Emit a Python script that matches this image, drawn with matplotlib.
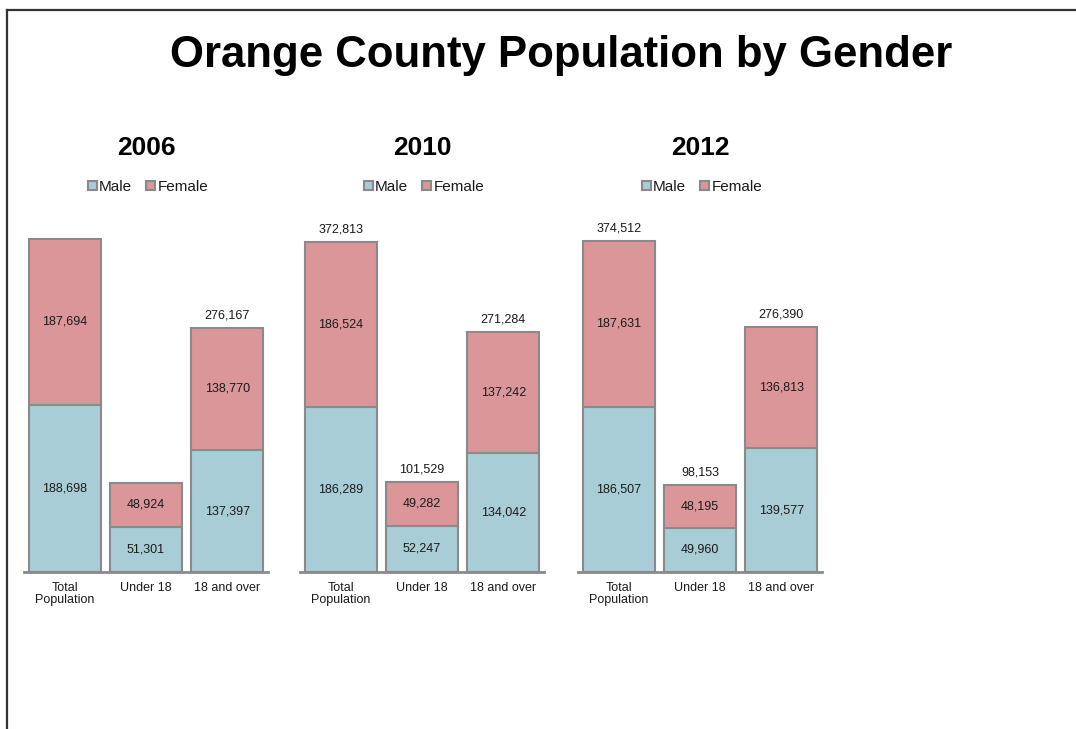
import matplotlib
matplotlib.use("Agg")
import matplotlib.pyplot as plt
from matplotlib.patches import Patch
from matplotlib.lines import Line2D

plt.rcParams['font.family'] = ['Liberation Sans', 'DejaVu Sans']

# Population data by year
years = ["2006", "2010", "2012"]
categories = ["Total\nPopulation", "Under 18", "18 and over"]
male = {
    "2006": [188698, 51301, 137397],
    "2010": [186289, 52247, 134042],
    "2012": [186507, 49960, 139577],
}
female = {
    "2006": [187694, 48924, 138770],
    "2010": [186524, 49282, 137242],
    "2012": [187631, 48195, 136813],
}
# Stated totals shown above the bars (None = not shown)
totals = {
    "2006": [None, None, 276167],
    "2010": [372813, 101529, 271284],
    "2012": [374512, 98153, 276390],
}

MALE_C = "#a9cdd6"
FEMALE_C = "#db9699"
EDGE_C = "#8a8a8a"
TEXT_C = "#1a1a1a"

W, H = 1076, 729
fig = plt.figure(figsize=(W / 100, H / 100), dpi=100)

# Frame around the slide (left and top edges)
fig.add_artist(Line2D([7 / W, 7 / W], [0, 1 - 10 / H], transform=fig.transFigure,
                      color="#333333", lw=1.6))
fig.add_artist(Line2D([7 / W, 1], [1 - 10 / H, 1 - 10 / H], transform=fig.transFigure,
                      color="#333333", lw=1.6))

fig.text(561 / W, 1 - 55 / H, "Orange County Population by Gender", ha="center", va="center",
         fontsize=31.5, fontweight="bold", color="black")

panel_left = [24, 300, 578]
panel_width = 244
base_px = 572
top_px = 218
ymax = 400000

x = [0, 1, 2]
bw = 0.885

for yr, left in zip(years, panel_left):
    ax = fig.add_axes([left / W, (H - base_px) / H, panel_width / W, (base_px - top_px) / H])
    m = male[yr]
    f = female[yr]
    ax.bar(x, m, width=bw, color=MALE_C, edgecolor=EDGE_C, linewidth=1.5, zorder=2)
    ax.bar(x, f, width=bw, bottom=m, color=FEMALE_C, edgecolor=EDGE_C, linewidth=1.5, zorder=2)
    for xi, mv, fv, tv in zip(x, m, f, totals[yr]):
        ax.text(xi, mv / 2, f"{mv:,}", ha="center", va="center", fontsize=9, color=TEXT_C)
        ax.text(xi, mv + fv / 2, f"{fv:,}", ha="center", va="center", fontsize=9, color=TEXT_C)
        if tv is not None:
            ax.annotate(f"{tv:,}", xy=(xi, tv), xytext=(0, 9), textcoords="offset points",
                        ha="center", va="center", fontsize=9, color=TEXT_C)
    ax.set_xlim(-0.5, 2.5)
    ax.set_ylim(0, ymax)
    ax.set_xticks(x)
    ax.set_xticklabels(categories, fontsize=9, color=TEXT_C, linespacing=1.0)
    ax.tick_params(axis="x", length=0, pad=7)
    ax.set_yticks([])
    for s in ["left", "right", "top"]:
        ax.spines[s].set_visible(False)
    ax.spines["bottom"].set_color(EDGE_C)
    ax.spines["bottom"].set_linewidth(2)
    ax.set_facecolor("none")

    cx = (left + panel_width / 2) / W
    fig.text(cx, 1 - 148 / H, yr, ha="center", va="center", fontsize=19,
             fontweight="bold", color="black")
    handles = [Patch(facecolor=MALE_C, edgecolor=EDGE_C, linewidth=1.5, label="Male"),
               Patch(facecolor=FEMALE_C, edgecolor=EDGE_C, linewidth=1.5, label="Female")]
    fig.legend(handles=handles, loc="center", bbox_to_anchor=(cx + 2 / W, 1 - 187 / H),
               ncol=2, frameon=False, fontsize=11, handlelength=0.6, handleheight=0.6,
               handletextpad=0.15, columnspacing=0.9, borderpad=0, labelcolor=TEXT_C)

fig.savefig("out.png", dpi=100, facecolor="white")
